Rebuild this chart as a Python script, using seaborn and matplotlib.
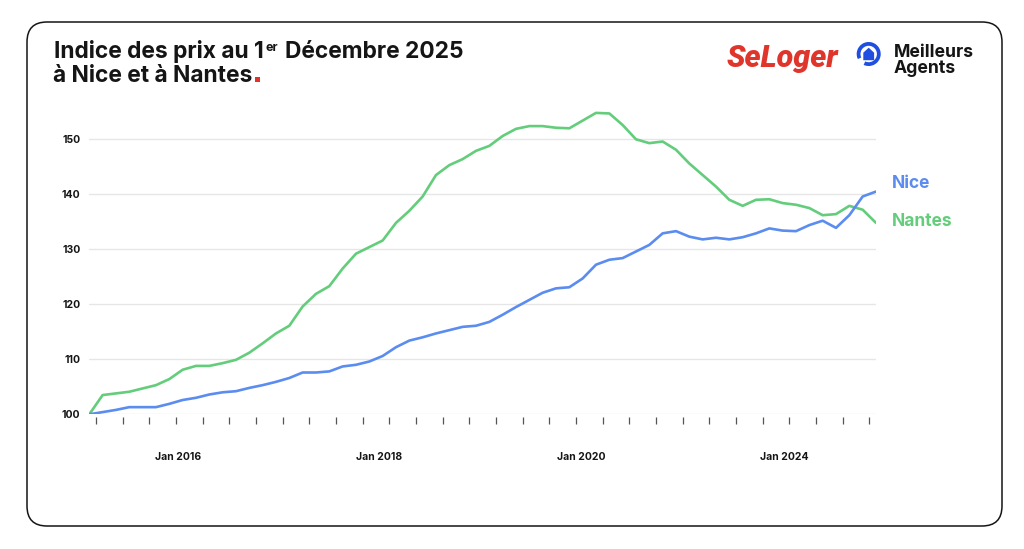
import numpy as np
import pandas as pd
import seaborn as sns
import matplotlib.pyplot as plt
from matplotlib.patches import FancyBboxPatch, Wedge, Polygon, Rectangle
from matplotlib.transforms import IdentityTransform

# indices (base 100)
nice = [100.0, 100.4, 100.8, 101.3, 101.3, 101.3, 101.9, 102.6, 103.0, 103.6, 104.0, 104.2, 104.8,
        105.3, 105.9, 106.6, 107.6, 107.6, 107.8, 108.7, 109.0, 109.6, 110.6, 112.2, 113.4,
        114.0, 114.7, 115.3, 115.9, 116.1, 116.8, 118.1, 119.5, 120.8, 122.1, 122.9, 123.1,
        124.7, 127.2, 128.1, 128.4, 129.6, 130.8, 132.9, 133.3, 132.3, 131.8, 132.1, 131.8,
        132.2, 132.9, 133.8, 133.4, 133.3, 134.4, 135.2, 133.9, 136.2, 139.6, 140.5]
nantes = [100.0, 103.5, 103.8, 104.1, 104.7, 105.3, 106.4, 108.1, 108.8, 108.8, 109.3, 109.9, 111.2,
          112.9, 114.7, 116.1, 119.6, 121.9, 123.3, 126.5, 129.2, 130.4, 131.6, 134.8, 137.0,
          139.6, 143.5, 145.3, 146.4, 147.9, 148.8, 150.6, 151.9, 152.4, 152.4, 152.1, 152.0,
          153.4, 154.8, 154.7, 152.6, 150.0, 149.3, 149.6, 148.1, 145.6, 143.5, 141.4, 139.0,
          137.9, 139.0, 139.1, 138.4, 138.1, 137.5, 136.2, 136.4, 137.9, 137.2, 134.8]
x_labels = ["Jan 2016", "Jan 2018", "Jan 2020", "Jan 2024"]
x_label_pos = [6.63, 21.73, 36.88, 52.1]
y_ticks = [100, 110, 120, 130, 140, 150]

BLUE = "#5b8cf0"
GREEN = "#63cd7b"
DARK = "#151515"
LOGO_BLUE = "#1f4fe0"

sns.set_theme(style="white")
plt.rcParams["font.family"] = ["Inter", "DejaVu Sans"]

df = pd.DataFrame({"i": np.arange(len(nice)), "Nice": nice, "Nantes": nantes})

fig = plt.figure(figsize=(10.24, 5.49), dpi=100)
px = IdentityTransform()

# fond / cadre
ax0 = fig.add_axes([0, 0, 1, 1], zorder=-1)
ax0.axis("off")
ax0.add_patch(FancyBboxPatch((27, 23), 975, 504, boxstyle="round,pad=0,rounding_size=20",
                             transform=px, fill=False, ec=DARK, lw=1.1))

# titre
t1 = ax0.text(54, 490.7, "Indice des prix au 1", transform=px, fontsize=16.4,
              fontweight="bold", color=DARK, va="baseline", ha="left")
t2 = ax0.annotate("er", xy=(1, 498), xycoords=(t1, "figure pixels"), xytext=(2, 0),
                  textcoords="offset pixels", fontsize=9, fontweight="bold", color=DARK,
                  va="baseline", ha="left")
ax0.annotate("Décembre 2025", xy=(1, 490.7), xycoords=(t2, "figure pixels"), xytext=(7, 0),
             textcoords="offset pixels", fontsize=16.4, fontweight="bold", color=DARK,
             va="baseline", ha="left")
t4 = ax0.text(53, 467.3, "à Nice et à Nantes", transform=px, fontsize=16.4,
              fontweight="bold", color=DARK, va="baseline", ha="left")
fig.canvas.draw()
bb = t4.get_window_extent()
ax0.add_patch(Rectangle((bb.x1 + 3, 467.3), 5, 5, transform=px, color="#e2332b", lw=0))

# logos
ax0.text(782, 491, "SeLoger", transform=px, color="#e0352b", fontsize=22, fontweight="heavy",
         style="italic", ha="center", va="center", family=["Roboto", "DejaVu Sans"])
ax0.add_patch(Wedge((868.7, 495.0), 12, 245, 565, width=3.8, transform=px, color=LOGO_BLUE, lw=0))
ax0.add_patch(Polygon([(863.3, 488.8), (874.1, 488.8), (874.1, 496.3), (868.7, 501.3), (863.3, 496.3)],
                      closed=True, transform=px, color=LOGO_BLUE, lw=0))
ax0.text(894, 492, "Meilleurs", transform=px, fontsize=12.7, fontweight="bold", color=DARK,
         va="baseline", ha="left")
ax0.text(894, 476, "Agents", transform=px, fontsize=12.7, fontweight="bold", color=DARK,
         va="baseline", ha="left")

# graphique
ax = fig.add_axes([89.3 / 1024, 134.7 / 549, (876 - 89.3) / 1024, 56 * 5.5 / 549])
ax.set_facecolor("none")
sns.lineplot(data=df, x="i", y="Nantes", color=GREEN, lw=1.9, ax=ax)
sns.lineplot(data=df, x="i", y="Nice", color=BLUE, lw=1.9, ax=ax)
ax.set_xlim(0, len(nice) - 1)
ax.set_ylim(100, 156)
ax.set_yticks(y_ticks)
ax.set_yticklabels([str(v) for v in y_ticks], fontsize=7.5, fontweight="bold", color=DARK)
ax.yaxis.grid(True, color="#e6e6e6", lw=1)
ax.set_xticks(np.arange(0.5, len(nice) - 1, 2))
ax.set_xticklabels([])
ax.tick_params(axis="x", bottom=True, length=4.8, width=0.9, color="#555555", direction="out")
ax.tick_params(axis="y", length=0, pad=6.5)
ax.set_xlabel("")
ax.set_ylabel("")
for s in ["top", "right", "left", "bottom"]:
    ax.spines[s].set_visible(False)
ax.spines["bottom"].set_position(("outward", 1.7))

for lbl, pos in zip(x_labels, x_label_pos):
    ax.annotate(lbl, xy=(pos, 0), xycoords=("data", "axes fraction"), xytext=(0, -43),
                textcoords="offset pixels", ha="center", va="center", fontsize=7.5,
                fontweight="bold", color=DARK)

ax.annotate("Nice", xy=(len(nice) - 1, 142.05), xytext=(16, 0), textcoords="offset pixels",
            color=BLUE, fontsize=12.5, fontweight="bold", va="center", ha="left", annotation_clip=False)
ax.annotate("Nantes", xy=(len(nice) - 1, 135.1), xytext=(16, 0), textcoords="offset pixels",
            color=GREEN, fontsize=12.5, fontweight="bold", va="center", ha="left", annotation_clip=False)

fig.savefig("out.png", dpi=100)
